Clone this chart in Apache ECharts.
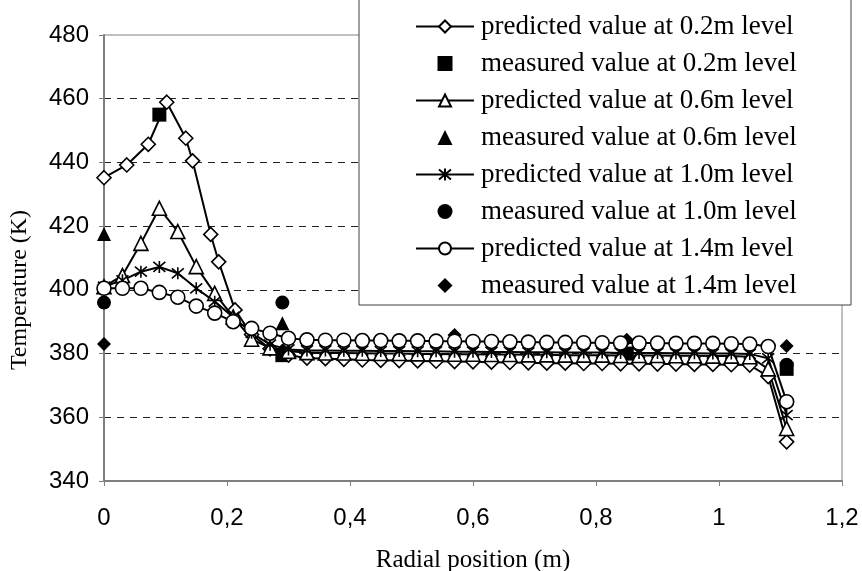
<!DOCTYPE html>
<html><head><meta charset="utf-8">
<script src="https://cdn.jsdelivr.net/npm/echarts@6/dist/echarts.min.js"></script>
<style>html,body{margin:0;padding:0;background:#fff}#c{width:862px;height:571px}</style>
</head><body><div id="c"></div>
<script>
// ---- data ----
const xTickLabels = ['0', '0,2', '0,4', '0,6', '0,8', '1', '1,2'];
const seriesNames = [
  'predicted value at 0.2m level', 'measured value at 0.2m level',
  'predicted value at 0.6m level', 'measured value at 0.6m level',
  'predicted value at 1.0m level', 'measured value at 1.0m level',
  'predicted value at 1.4m level', 'measured value at 1.4m level'
];
// common radial grid of the predicted profiles (m)
const xGrid = [0, 0.03, 0.06, 0.09, 0.12, 0.15, 0.18, 0.21, 0.24, 0.27,
  0.30, 0.33, 0.36, 0.39, 0.42, 0.45, 0.48, 0.51, 0.54, 0.57,
  0.60, 0.63, 0.66, 0.69, 0.72, 0.75, 0.78, 0.81, 0.84, 0.87,
  0.90, 0.93, 0.96, 0.99, 1.02, 1.05, 1.08, 1.11];
// predicted 0.2 m has its own x positions
const xPred02 = [0, 0.037, 0.072, 0.102, 0.133, 0.144, 0.1735, 0.1865, 0.213, 0.24, 0.27,
  0.30, 0.33, 0.36, 0.39, 0.42, 0.45, 0.48, 0.51, 0.54, 0.57,
  0.60, 0.63, 0.66, 0.69, 0.72, 0.75, 0.78, 0.81, 0.84, 0.87,
  0.90, 0.93, 0.96, 0.99, 1.02, 1.05, 1.08, 1.11];
const pred02 = [435.2, 439.2, 445.7, 458.9, 447.6, 440.5, 417.4, 408.8, 393.7, 386.0, 381.5,
  379.5, 378.6, 378.4, 378.2, 378.0, 377.9, 377.8, 377.7, 377.6, 377.5,
  377.4, 377.3, 377.2, 377.1, 377.0, 377.0, 376.9, 376.9, 376.8, 376.8,
  376.7, 376.7, 376.6, 376.6, 376.5, 376.4, 372.8, 352.3];
const pred06 = [401.0, 404.5, 414.6, 425.6, 418.3, 407.3, 398.9, 391.5, 384.5, 381.8,
  380.7, 380.3, 380.2, 380.2, 380.1, 380.0, 380.0, 379.9, 379.9, 379.8,
  379.8, 379.7, 379.7, 379.6, 379.6, 379.5, 379.5, 379.5, 379.4, 379.4,
  379.4, 379.3, 379.3, 379.2, 379.2, 379.0, 375.2, 356.5];
const pred10 = [401.0, 403.0, 405.7, 407.2, 405.2, 400.5, 396.3, 391.5, 386.5, 382.8,
  381.3, 381.0, 381.0, 380.9, 380.9, 380.8, 380.8, 380.7, 380.7, 380.6,
  380.6, 380.5, 380.5, 380.4, 380.4, 380.3, 380.3, 380.3, 380.2, 380.2,
  380.2, 380.1, 380.1, 380.0, 380.0, 379.9, 378.5, 360.7];
const pred14 = [400.5, 400.5, 400.5, 399.2, 397.7, 394.9, 392.7, 390.0, 387.9, 386.4,
  384.8, 384.3, 384.2, 384.2, 384.1, 384.1, 384.0, 384.0, 383.9, 383.9,
  383.8, 383.8, 383.7, 383.6, 383.5, 383.5, 383.4, 383.4, 383.3, 383.3,
  383.3, 383.2, 383.2, 383.2, 383.1, 383.0, 382.2, 364.9];
// measured values
const meas02X = [0.09, 0.29, 0.85, 1.11];
const meas02Y = [455.0, 379.5, 380.0, 375.2];
const meas06X = [0, 0.29];
const meas06Y = [417.5, 389.5];
const meas10X = [0, 0.29, 1.11];
const meas10Y = [396.0, 396.0, 376.5];
const meas14X = [0, 0.29, 0.57, 0.85, 1.11];
const meas14Y = [383.0, 381.0, 385.8, 384.3, 382.4];

// ---- helpers ----
const zip = (xs, ys) => xs.map((x, i) => [x, ys[i]]);
const ASTER = 'path://M0,0L10,10M10,0L0,10M5,-1L5,11';
// legend icons for the measured series (path icons keep their aspect in the legend)
const measIcons = {
  1: 'path://M0,0L10,0L10,10L0,10Z',
  3: 'path://M5,0L10,10L0,10Z',
  5: 'path://M0,5A5,5,0,1,1,10,5A5,5,0,1,1,0,5Z',
  7: 'path://M5,0L10,5L5,10L0,5Z'
};

function predSeries(name, xs, ys, symbol, size) {
  return {
    name, type: 'line', data: zip(xs, ys), symbol, symbolSize: size,
    lineStyle: { color: '#000', width: 2 },
    itemStyle: { color: symbol === ASTER ? '#000' : '#fff', borderColor: '#000', borderWidth: 1.6 },
    emphasis: { disabled: true }, animation: false
  };
}
function measSeries(name, xs, ys, symbol, size) {
  return {
    name, type: 'scatter', data: zip(xs, ys), symbol, symbolSize: size,
    itemStyle: { color: '#000', borderColor: '#000', borderWidth: 0, opacity: 1 },
    emphasis: { disabled: true }, animation: false
  };
}

const chart = echarts.init(document.getElementById('c'), null, { renderer: 'canvas' });
chart.setOption({
  backgroundColor: '#fff',
  animation: false,
  grid: { left: 104, right: 20, top: 35, bottom: 90, containLabel: false, outerBoundsMode: 'none',
    show: true, borderColor: '#808080', borderWidth: 1, backgroundColor: 'transparent' },
  xAxis: {
    type: 'value', min: 0, max: 1.2, interval: 0.2,
    name: 'Radial position (m)', nameLocation: 'middle', nameGap: 67,
    nameTextStyle: { fontFamily: 'Liberation Serif', fontSize: 25, color: '#000' },
    axisLine: { lineStyle: { color: '#7f7f7f', width: 2 } },
    axisTick: { show: true, length: 5, lineStyle: { color: '#7f7f7f' } },
    axisLabel: { margin: 25, fontFamily: 'Liberation Sans', fontSize: 24, color: '#000',
      formatter: v => xTickLabels[Math.round(v / 0.2)] },
    splitLine: { show: false }
  },
  yAxis: {
    type: 'value', min: 340, max: 480, interval: 20,
    axisLine: { show: true, lineStyle: { color: '#7f7f7f', width: 2 } },
    axisTick: { show: true, length: 5, lineStyle: { color: '#7f7f7f' } },
    axisLabel: { margin: 15, fontFamily: 'Liberation Sans', fontSize: 24, color: '#000' },
    splitLine: { show: true, showMinLine: false, showMaxLine: false,
      lineStyle: { color: '#222', type: [7, 6], width: 1 } }
  },
  graphic: [{
    type: 'rect', z: 50, shape: { x: 359, y: -2, width: 492, height: 307 },
    style: { fill: '#fff', stroke: '#404040', lineWidth: 1 }
  }, {
    type: 'text', z: 50, x: 20, y: 290, rotation: Math.PI / 2,
    style: { text: 'Temperature (K)', fontFamily: 'Liberation Serif', fontSize: 24, fill: '#000',
      align: 'center', verticalAlign: 'middle' }
  }],
  legend: {
    z: 60, orient: 'vertical', left: 415, top: 13, padding: 0,
    itemWidth: 58, itemHeight: 15, itemGap: 10, symbolKeepAspect: true,
    data: seriesNames.map((n, i) => measIcons[i] ? { name: n, icon: measIcons[i] } : { name: n }),
    textStyle: { fontFamily: 'Liberation Serif', fontSize: 27, color: '#000', padding: [0, 0, 0, 2] },
    selectedMode: false
  },
  series: [
    predSeries(seriesNames[0], xPred02, pred02, 'diamond', 14),
    measSeries(seriesNames[1], meas02X, meas02Y, 'rect', 14),
    predSeries(seriesNames[2], xGrid, pred06, 'triangle', 14),
    measSeries(seriesNames[3], meas06X, meas06Y, 'triangle', 14),
    predSeries(seriesNames[4], xGrid, pred10, ASTER, 12),
    measSeries(seriesNames[5], meas10X, meas10Y, 'circle', 14),
    predSeries(seriesNames[6], xGrid, pred14, 'circle', 14),
    measSeries(seriesNames[7], meas14X, meas14Y, 'diamond', 14)
  ]
});
</script>
</body></html>
